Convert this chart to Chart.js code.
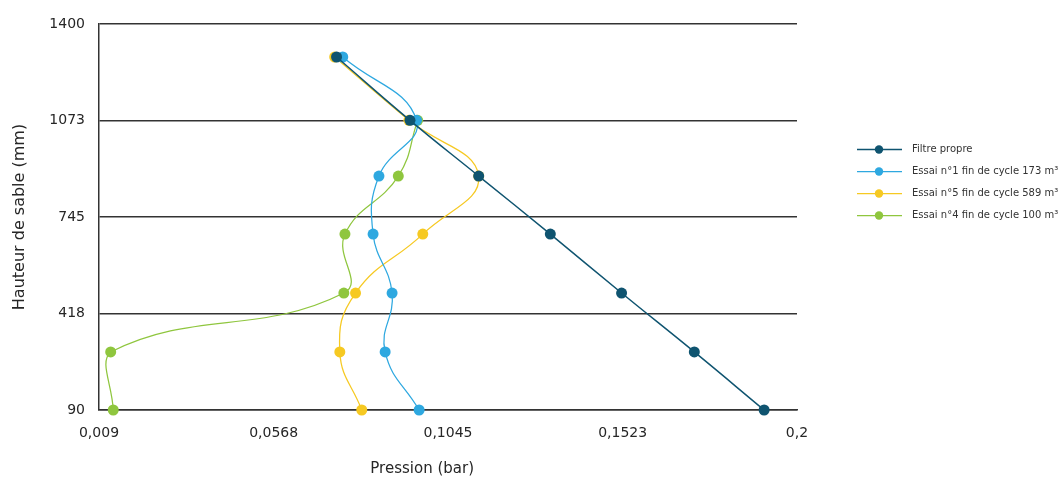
<!DOCTYPE html>
<html>
<head>
<meta charset="utf-8">
<script src="https://cdn.jsdelivr.net/npm/chart.js@4.4.0/dist/chart.umd.min.js"></script>
<style>
  html, body { margin: 0; padding: 0; background: #ffffff; }
  #wrap { position: relative; width: 1059px; height: 478px; overflow: hidden; }
</style>
</head>
<body>
<div id="wrap"><canvas id="c" width="1059" height="478"></canvas></div>
<script>
// Heights (mm) shared by all series
const heights = [1288, 1073, 884, 687, 487, 287, 90];
// Pressure (bar) per series (null = no measurement)
const filtrePropre = [0.0740, 0.0941, 0.1129, 0.1325, 0.1520, 0.1719, 0.1910];
const essai1 = [0.0757, 0.0959, 0.0856, 0.0840, 0.0892, 0.0873, 0.0966];
const essai5 = [0.0735, 0.0938, 0.1129, 0.0976, 0.0792, 0.0749, 0.0809];
const essai4 = [null, 0.0962, 0.0909, 0.0763, 0.0760, 0.0122, 0.0129];

const seriesLabels = [
  'Filtre propre',
  'Essai n°1 fin de cycle 173 m³',
  'Essai n°5 fin de cycle 589 m³',
  'Essai n°4 fin de cycle 100 m³'
];
const xTicks = [0.009, 0.0568, 0.1045, 0.1523, 0.2];
const yTicks = [90, 418, 745, 1073, 1400];
const xTitle = 'Pression (bar)';
const yTitle = 'Hauteur de sable (mm)';

const colors = ['#0f5470', '#2ea8e0', '#f6c922', '#8fc63e'];
const widths = [1.5, 1.25, 1.25, 1.25];

function pts(xs) {
  return xs.map((x, i) => ({ x: x, y: heights[i] })).filter(p => p.x !== null);
}
const allSeries = [filtrePropre, essai1, essai5, essai4];

const FONT = "'DejaVu Sans', sans-serif";

const legendPlugin = {
  id: 'sideLegend',
  afterDraw(chart) {
    const ctx = chart.ctx;
    ctx.save();
    chart.data.datasets.forEach((ds, i) => {
      const y = 149.5 + i * 22;
      ctx.strokeStyle = ds.borderColor;
      ctx.lineWidth = ds.borderWidth;
      ctx.beginPath();
      ctx.moveTo(857, y);
      ctx.lineTo(902, y);
      ctx.stroke();
      ctx.fillStyle = ds.backgroundColor;
      ctx.beginPath();
      ctx.arc(879, y, 4.2, 0, Math.PI * 2);
      ctx.fill();
      ctx.fillStyle = '#333333';
      ctx.font = "10px " + FONT;
      ctx.textBaseline = 'middle';
      ctx.textAlign = 'left';
      ctx.fillText(ds.label, 912, y);
    });
    // x axis title, placed as in the original
    const xs = chart.scales.x;
    ctx.fillStyle = '#262626';
    ctx.font = "15px " + FONT;
    ctx.textAlign = 'center';
    ctx.textBaseline = 'middle';
    ctx.fillText(xTitle, xs.left + (xs.right - xs.left) * 0.463, 469);
    ctx.restore();
  }
};

new Chart(document.getElementById('c'), {
  type: 'scatter',
  data: {
    datasets: allSeries.map((s, i) => ({
      label: seriesLabels[i],
      data: pts(s),
      showLine: true,
      borderColor: colors[i],
      backgroundColor: colors[i],
      borderWidth: widths[i],
      pointRadius: 5.5,
      pointHoverRadius: 5.5,
      pointBorderWidth: 0,
      tension: 0.45,
      clip: false
    }))
  },
  options: {
    responsive: false,
    animation: false,
    events: [],
    layout: { padding: { left: 0, right: 262, top: 24, bottom: 0 } },
    plugins: {
      legend: { display: false },
      tooltip: { enabled: false }
    },
    scales: {
      x: {
        type: 'linear',
        min: 0.009,
        max: 0.2,
        afterBuildTicks: (scale) => { scale.ticks = xTicks.map(v => ({ value: v })); },
        afterFit: (scale) => { scale.height = 68; },
        grid: { display: false, drawTicks: false },
        border: { display: true, color: '#333333', width: 1.5 },
        ticks: {
          autoSkip: false,
          maxRotation: 0,
          padding: 15,
          color: '#262626',
          font: { family: FONT, size: 14 },
          callback: (v) => String(v).replace('.', ',')
        },
        title: { display: false }
      },
      y: {
        type: 'linear',
        min: 90,
        max: 1400,
        afterBuildTicks: (scale) => { scale.ticks = yTicks.map(v => ({ value: v })); },
        afterFit: (scale) => { scale.width = 99; },
        grid: { display: true, drawTicks: false, color: '#333333', lineWidth: 1.5 },
        border: { display: true, color: '#333333', width: 1.5 },
        ticks: {
          autoSkip: false,
          padding: 14,
          color: '#262626',
          font: { family: FONT, size: 14 },
          callback: (v) => String(v)
        },
        title: {
          display: true,
          text: yTitle,
          color: '#262626',
          font: { family: FONT, size: 16 },
          padding: { top: 10, bottom: 0 }
        }
      }
    }
  },
  plugins: [legendPlugin]
});
</script>
</body>
</html>
